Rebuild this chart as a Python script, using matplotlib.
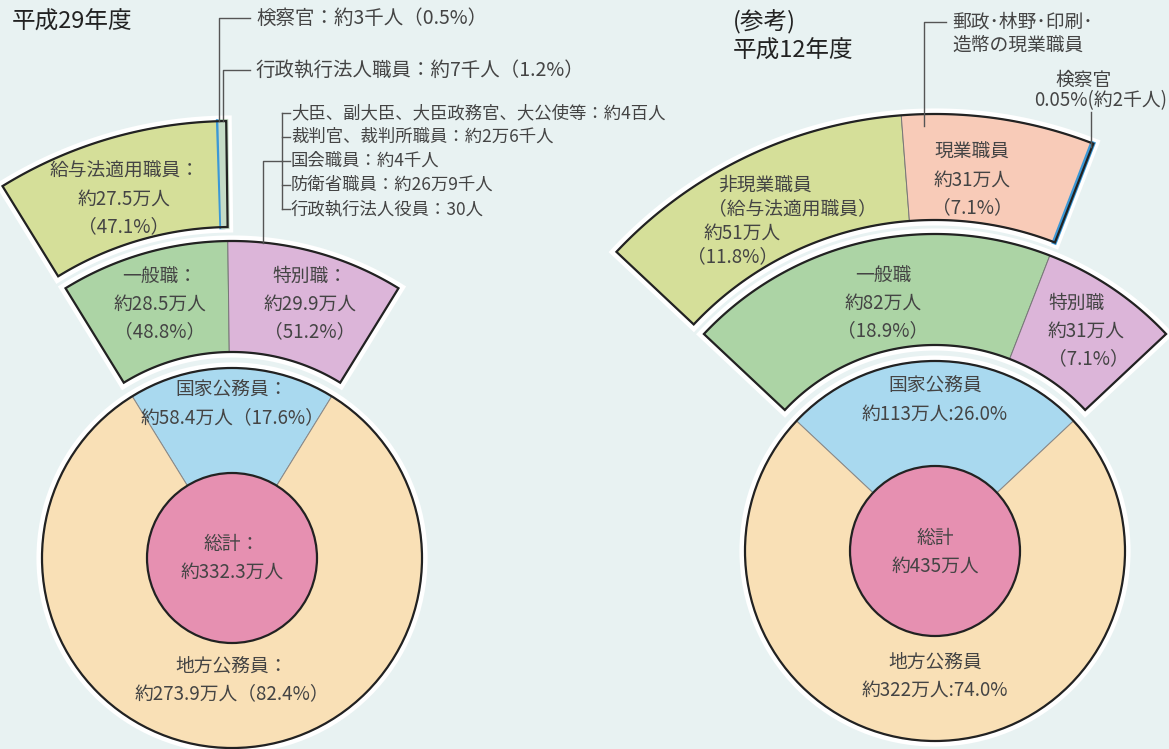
import numpy as np
import matplotlib
matplotlib.use('Agg')
import matplotlib.pyplot as plt
from matplotlib.patches import Polygon, Circle

plt.rcParams['font.family'] = ['Noto Sans CJK JP', 'DejaVu Sans']

# ---- 平成29年度 ----
h29_total = 332.3                      # 万人
h29_main = ['国家公務員', '地方公務員']
h29_main_pct = [17.6, 82.4]
h29_main_num = [58.4, 273.9]
h29_kokka = ['一般職', '特別職']
h29_kokka_pct = [48.8, 51.2]           # share of 国家公務員
h29_kokka_num = [28.5, 29.9]
h29_ippan = ['給与法適用職員', '検察官', '行政執行法人職員']
h29_ippan_pct = [47.1, 0.5, 1.2]       # share of 国家公務員
h29_ippan_num = ['約27.5万人', '約3千人', '約7千人']
h29_toku = ['大臣、副大臣、大臣政務官、大公使等', '裁判官、裁判所職員', '国会職員',
            '防衛省職員', '行政執行法人役員']
h29_toku_num = ['約4百人', '約2万6千人', '約4千人', '約26万9千人', '30人']

# ---- 平成12年度 (参考) ----
h12_total = 435
h12_main_pct = [26.0, 74.0]
h12_main_num = [113, 322]
h12_kokka = ['一般職', '特別職']
h12_kokka_pct = [18.9, 7.1]            # share of total
h12_kokka_num = [82, 31]
h12_ippan = ['非現業職員', '現業職員', '検察官']
h12_ippan_pct = [11.8, 7.1, 0.05]      # share of total
h12_ippan_num = ['約51万人', '約31万人', '約2千人']

# colours
BG = '#e8f2f2'
C_LOCAL = '#f9e0b6'
C_KOKKA = '#a9d9ef'
C_TOTAL = '#e690b1'
C_IPPAN = '#acd4a5'
C_TOKU = '#dcb5d9'
C_KYUYO = '#d5df99'
C_GENGYO = '#f8cbb8'
C_KENSATSU = '#3b98d6'
C_GYOSEI = '#c5dcc6'
TXT = '#444444'

fig = plt.figure(figsize=(11.69, 7.49), dpi=100)
fig.patch.set_facecolor(BG)
ax = fig.add_axes([0, 0, 1, 1])
ax.set_xlim(0, 1169)
ax.set_ylim(749, 0)
ax.axis('off')


def sector(cx, cy, r0, r1, a0, a1, **kw):
    # y axis points down, angles counter-clockwise from +x (degrees)
    t = np.radians(np.linspace(a0, a1, 200))
    xs = np.concatenate([cx + r1 * np.cos(t), cx + r0 * np.cos(t[::-1])])
    ys = np.concatenate([cy - r1 * np.sin(t), cy - r0 * np.sin(t[::-1])])
    p = Polygon(np.column_stack([xs, ys]), closed=True, **kw)
    ax.add_patch(p)
    return p


def band(cx, cy, r0, r1, a_left, spans, colors):
    a_right = a_left - sum(spans)
    sector(cx, cy, r0, r1, a_left, a_right, fc='none', ec='white', lw=8, zorder=1,
           joinstyle='miter')
    a = a_left
    edges = []
    for s, c in zip(spans, colors):
        if s < 1.0:
            sector(cx, cy, r0, r1, a, a - s, fc=c, ec=c, lw=3.0, zorder=2.5)
        else:
            sector(cx, cy, r0, r1, a, a - s, fc=c, ec='#777777', lw=0.7, zorder=2)
        edges.append((a, a - s))
        a -= s
    sector(cx, cy, r0, r1, a_left, a_right, fc='none', ec='#222222', lw=1.6, zorder=3,
           joinstyle='miter')
    return edges


def donut(cx, cy, R, r, pct_kokka):
    span = pct_kokka / 100 * 360
    a_l, a_r = 90 + span / 2, 90 - span / 2
    ax.add_patch(Circle((cx, cy), R, fc='none', ec='white', lw=8, zorder=1))
    sector(cx, cy, 0, R, a_l, a_r, fc=C_KOKKA, ec='#888888', lw=0.7, zorder=2)
    sector(cx, cy, 0, R, a_l, a_r + 360, fc=C_LOCAL, ec='#888888', lw=0.7, zorder=2)
    ax.add_patch(Circle((cx, cy), R, fc='none', ec='#222222', lw=1.6, zorder=3))
    ax.add_patch(Circle((cx, cy), r, fc=C_TOTAL, ec='#222222', lw=1.6, zorder=4))
    return a_l, span


def polar(cx, cy, rr, a):
    return cx + rr * np.cos(np.radians(a)), cy - rr * np.sin(np.radians(a))


R, RP = 190, 85
B2 = (206, 317)
B3 = (331, 437)
FS = 13.5

# ================= 平成29年度 =================
cx, cy = 232, 558
a_l, span = donut(cx, cy, R, RP, h29_main_pct[0])
k_spans = [p / 100 * span for p in h29_kokka_pct]
k_edges = band(cx, cy, B2[0], B2[1], a_l, k_spans, [C_IPPAN, C_TOKU])
i_spans = [p / 100 * span for p in h29_ippan_pct]
i_edges = band(cx, cy, B3[0], B3[1], a_l, i_spans, [C_KYUYO, C_KENSATSU, C_GYOSEI])

kw = dict(ha='center', va='center', color=TXT, fontsize=FS, linespacing=1.4, zorder=6)
ax.text(12, 22, '平成29年度', ha='left', va='center', fontsize=17, color='#222222')
ax.text(cx, 558, f'総計：\n約{h29_total}万人', **kw)
ax.text(cx, 404, f'{h29_main[0]}：\n約{h29_main_num[0]}万人（{h29_main_pct[0]}%）', **kw)
ax.text(cx, 680, f'{h29_main[1]}：\n約{h29_main_num[1]}万人（{h29_main_pct[1]}%）', **kw)
ax.text(160, 304, f'{h29_kokka[0]}：\n約{h29_kokka_num[0]}万人\n（{h29_kokka_pct[0]}%）', **kw)
ax.text(310, 304, f'{h29_kokka[1]}：\n約{h29_kokka_num[1]}万人\n（{h29_kokka_pct[1]}%）', **kw)
ax.text(124, 199, f'{h29_ippan[0]}：\n{h29_ippan_num[0]}\n（{h29_ippan_pct[0]}%）', **kw)

lkw = dict(color='#555555', lw=1.0, zorder=5)
# leaders to the thin slivers
for idx, ly in [(1, 18), (2, 70)]:
    a0, a1 = i_edges[idx]
    x0, y0 = polar(cx, cy, B3[1], (a0 + a1) / 2)
    ax.plot([x0, x0, 250], [y0, ly, ly], **lkw)
    ax.text(256, ly, f'{h29_ippan[idx]}：{h29_ippan_num[idx]}（{h29_ippan_pct[idx]}%）',
            ha='left', va='center', fontsize=14, color=TXT)

# bracket for 特別職 breakdown
rows = [113, 137, 161, 185, 209]
bx = 282
x_conn = 263
y_conn = cy - np.sqrt(B2[1] ** 2 - (x_conn - cx) ** 2)
ax.plot([x_conn, x_conn, bx], [y_conn, rows[2], rows[2]], **lkw)
ax.plot([bx, bx], [rows[0], rows[-1]], **lkw)
for name, num, ry in zip(h29_toku, h29_toku_num, rows):
    ax.plot([bx, bx + 8], [ry, ry], **lkw)
    ax.text(bx + 9, ry, f'{name}：{num}', ha='left', va='center', fontsize=12.5, color=TXT)

# ================= 平成12年度 =================
cx, cy = 935, 551
a_l, span = donut(cx, cy, R, RP, h12_main_pct[0])
k_spans = [p / 100 * 360 for p in h12_kokka_pct]
k_edges = band(cx, cy, B2[0], B2[1], a_l, k_spans, [C_IPPAN, C_TOKU])
scale = k_spans[0] / sum(h12_ippan_pct)
i_spans = [p * scale for p in h12_ippan_pct]
i_edges = band(cx, cy, B3[0], B3[1], a_l, i_spans, [C_KYUYO, C_GENGYO, C_KENSATSU])

ax.text(733, 22, '(参考)', ha='left', va='center', fontsize=17, color='#222222')
ax.text(733, 51, '平成12年度', ha='left', va='center', fontsize=17, color='#222222')
ax.text(cx, 552, f'総計\n約{h12_total}万人', **kw)
ax.text(cx, 400, f'国家公務員\n約{h12_main_num[0]}万人:{h12_main_pct[0]}%', **kw)
ax.text(cx, 676, f'地方公務員\n約{h12_main_num[1]}万人:{h12_main_pct[1]}%', **kw)
ax.text(883, 303, f'{h12_kokka[0]}\n約{h12_kokka_num[0]}万人\n（{h12_kokka_pct[0]}%）', **kw)
ax.text(1048, 331, f'{h12_kokka[1]}\n約{h12_kokka_num[1]}万人\n（{h12_kokka_pct[1]}%）',
        **{**kw, 'ha': 'left'})
ax.text(765, 185, h12_ippan[0], **kw)
ax.text(792, 209, '（給与法適用職員）', **kw)
ax.text(742, 233, h12_ippan_num[0], **kw)
ax.text(733, 257, f'（{h12_ippan_pct[0]}%）', **kw)
ax.text(972, 180, f'{h12_ippan[1]}\n{h12_ippan_num[1]}\n（{h12_ippan_pct[1]}%）', **kw)

# leader to 現業職員
a0, a1 = i_edges[1]
xg, yg = polar(cx, cy, B3[1] - 12, a0 - 3)
ax.plot([xg, xg, xg + 22], [yg, 22, 22], **lkw)
ax.text(xg + 28, 22, '郵政･林野･印刷･', ha='left', va='center', fontsize=13.5, color=TXT)
ax.text(xg + 28, 45, '造幣の現業職員', ha='left', va='center', fontsize=13.5, color=TXT)

# leader to 検察官
a0, a1 = i_edges[2]
xk, yk = polar(cx, cy, B3[1] - 4, (a0 + a1) / 2)
ax.plot([xk, xk], [112, yk], **lkw)
ax.text(xk - 8, 80, h12_ippan[2], ha='center', va='center', fontsize=13.5, color=TXT)
ax.text(1167, 101, f'{h12_ippan_pct[2]}%({h12_ippan_num[2]})', ha='right', va='center',
        fontsize=13.5, color=TXT)

fig.savefig('out.png', dpi=100, facecolor=BG)
